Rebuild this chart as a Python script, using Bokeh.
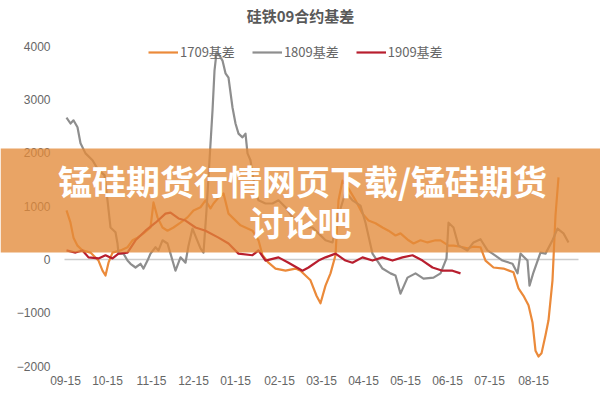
from bokeh.plotting import figure
from bokeh.models import Range1d, FixedTicker, Legend, LegendItem, BoxAnnotation, Label, LinearAxis
from bokeh.embed import file_html
from bokeh.resources import INLINE

title_text = "硅铁09合约基差"
banner_line1 = "锰硅期货行情网页下载/锰硅期货"
banner_line2 = "讨论吧"

tick_labels = ["09-15", "10-15", "11-15", "12-15", "01-15", "02-15",
               "03-15", "04-15", "05-15", "06-15", "07-15", "08-15"]
tick_days = [0, 21, 43, 64, 85, 107, 128, 149, 170, 191, 212, 234]
y_ticks = [-2000, -1000, 0, 1000, 2000, 3000, 4000]

series_names = ["1709基差", "1809基差", "1909基差"]
series_colors = ["#EB8A3A", "#8E8E8E", "#B81E2E"]

day_1709 = [0.5, 2.5, 4, 6, 8.5, 12.5, 16.5, 18.5, 20, 21.5, 23.5, 27.5, 31, 33.5, 36,
            39, 42.5, 44, 46, 48.5, 51, 54, 57.5, 61, 64, 67.5, 70, 72.5, 74, 76.5,
            79, 81.5, 87.5, 93.5, 96.5, 98.5, 101.5, 105, 110, 115, 117.5, 122.5, 125.5, 127.5, 130,
            132.5, 135, 136.5, 138.5, 141.5, 145, 148.5, 151.5, 155, 158.5, 161.5, 165, 167.5, 171.5, 174,
            177.5, 181, 185, 187.5, 191.5, 194, 197.5, 201, 204, 207.5, 210, 214, 219, 224, 226.5,
            229, 231.5, 233.5, 235, 236.5, 238, 240, 241.5, 243.5, 245, 246.5]
basis_1709 = [920, 690, 410, 260, 170, 130, -20, -210, -300, -60, 130, 170, 230, 360, 410,
              490, 600, 1070, 790, 600, 540, 600, 690, 790, 920, 980, 1110, 960, 1050, 1160,
              1240, 860, 640, 540, 360, 80, -60, -170, -210, -170, -210, -390, -680, -820, -490,
              -260, 80, 1110, 1480, 1330, 1110, 860, 730, 680, 600, 540, 450, 490, 360, 300,
              360, 320, 360, 360, 260, 260, 240, 210, 240, 230, -20, -150, -170, -240, -540,
              -680, -860, -1180, -1710, -1820, -1760, -1420, -1140, -390, 830, 1540]

day_1809 = [0.5, 2.5, 4, 6, 7.5, 10, 13.5, 16.5, 19.5, 21, 22.5, 25, 26, 26.5, 29,
            31, 32.5, 35, 37.5, 39, 41, 42.5, 45, 46.5, 48.5, 51, 52.5, 55, 57.5, 60,
            61.5, 63.5, 65.5, 67.5, 69, 70.5, 72, 73.5, 74.5, 75.5, 77, 78.5, 80, 81.5, 83.5,
            85, 86.5, 88.5, 90, 91, 92.5, 93.5, 95, 96.5, 100, 103.5, 106.5, 110, 113.5, 116.5,
            120, 123.5, 126.5, 130, 133.5, 136.5, 140, 143.5, 147.5, 150, 153.5, 158.5, 162.5, 165, 167.5,
            171, 175, 179, 184, 187.5, 190.5, 191.5, 194, 196.5, 201, 204, 207.5, 211, 213.5, 218.5,
            223.5, 226, 227.5, 231, 232, 234, 237.5, 240, 243.5, 246, 249, 251.5]
basis_1809 = [2660, 2550, 2610, 2480, 2180, 1990, 1860, 1670, 1580, 1110, 600, 510, 300, 110, 110,
              -20, -80, -150, -80, -170, -20, 110, 230, 170, 360, 300, 110, -210, 40, -60,
              260, 580, 390, 210, 130, 920, 1860, 2790, 3540, 3880, 3820, 3730, 3490, 3410, 2850,
              2550, 2360, 2290, 2360, 1990, 1860, 1610, 1290, 1110, 1050, 1050, 1110, 980, 790, 730,
              600, 600, 490, 360, 320, 830, 1260, 1110, 1010, 690, 110, -170, -260, -300, -640,
              -340, -260, -360, -340, -260, 20, 690, 600, 260, 170, 320, 380, 170, 110, -20,
              -80, -260, 110, -20, -490, -240, 130, 110, 360, 580, 490, 320]

day_1909 = [0.5, 5, 8.5, 11.5, 16.5, 20, 23.5, 26.5, 31, 35, 40, 45, 50, 52.5, 56.5,
            60, 65, 70, 76.5, 81.5, 86.5, 93.5, 96.5, 100, 106.5, 111.5, 118.5, 121.5, 126.5, 130,
            135, 140, 143.5, 148.5, 153.5, 158.5, 163.5, 168.5, 173.5, 178.5, 183.5, 188.5, 193.5, 197.5]
basis_1909 = [170, 130, 170, 40, 20, 80, 20, 110, 130, 360, 540, 690, 860, 880, 770,
              730, 600, 540, 410, 300, 110, 80, 170, -20, 40, -60, -210, -150, -20, 40,
              110, -20, -60, 40, -20, 40, -20, 40, 80, -20, -150, -210, -210, -260]

W, H = 600, 400

# frame covers the whole canvas; axes are pinned with fixed_location
p = figure(width=W, height=H, output_backend="svg", toolbar_location=None,
           x_range=Range1d(-32.5, 267.5), y_range=Range1d(-2643.75, 4856.25),
           min_border=0, min_border_left=0, min_border_right=0,
           min_border_top=0, min_border_bottom=0)
p.grid.visible = False
p.outline_line_color = None
p.background_fill_color = "white"
p.border_fill_color = "white"

xa = p.xaxis[0]
ya = p.yaxis[0]
ya.ticker = FixedTicker(ticks=y_ticks)
ya.fixed_location = -0.5
xa.ticker = FixedTicker(ticks=tick_days)
xa.fixed_location = -2000
xa.major_label_overrides = {d: lab for d, lab in zip(tick_days, tick_labels)}
for ax in (xa, ya):
    ax.axis_line_color = None
    ax.major_tick_line_color = None
    ax.minor_tick_line_color = None
    ax.major_tick_out = 0
    ax.major_tick_in = 0
    ax.major_label_text_font = "Liberation Sans"
    ax.major_label_text_font_size = "12px"
    ax.major_label_text_color = "#666666"
ya.major_label_standoff = 14
xa.major_label_standoff = 10

# zero line (horizontal axis crossing at 0, labels kept low like Excel)
zero_axis = LinearAxis(fixed_location=0, bounds=(-0.5, 256.5), ticker=FixedTicker(ticks=[]),
                       axis_line_color="#CCCCCC", axis_line_width=1.5,
                       major_tick_line_color=None, minor_tick_line_color=None,
                       major_label_text_font_size="0px", level="underlay")
p.add_layout(zero_axis, "below")

renderers = []
for d, v, c in ((day_1709, basis_1709, series_colors[0]),
                (day_1809, basis_1809, series_colors[1]),
                (day_1909, basis_1909, series_colors[2])):
    r = p.line(d, v, line_color=c, line_width=2.2, line_join="round")
    renderers.append(r)

legend = Legend(items=[LegendItem(label=n, renderers=[r]) for n, r in zip(series_names, renderers)],
                orientation="horizontal", location=(148, 339),
                background_fill_alpha=0, border_line_color=None,
                label_text_font="Noto Sans CJK SC", label_text_font_size="13px",
                label_text_color="#666666", glyph_width=30, glyph_height=12,
                label_height=12, label_standoff=2, spacing=17, padding=0, margin=0)
p.add_layout(legend)

title = Label(x=300, y=15, x_units="canvas", y_units="canvas", text=title_text,
              text_align="center", text_baseline="middle", text_font="Noto Sans CJK SC",
              text_font_style="bold", text_font_size="15px", text_color="#595959")
p.add_layout(title)

banner = BoxAnnotation(left=0, right=W, top=148, bottom=252,
                       left_units="canvas", right_units="canvas",
                       bottom_units="canvas", top_units="canvas",
                       fill_color="#E38B3A", fill_alpha=0.78, line_color=None, level="overlay")
p.add_layout(banner)

for txt, cx, cy in ((banner_line1, 302, 180), (banner_line2, 300, 221)):
    lab = Label(x=cx, y=cy, x_units="canvas", y_units="canvas", text=txt,
                text_align="center", text_baseline="middle", text_font="Noto Sans CJK SC",
                text_font_style="bold", text_font_size="34px", text_color="white", level="overlay")
    p.add_layout(lab)

open("out.html", "w").write(file_html(p, INLINE))
